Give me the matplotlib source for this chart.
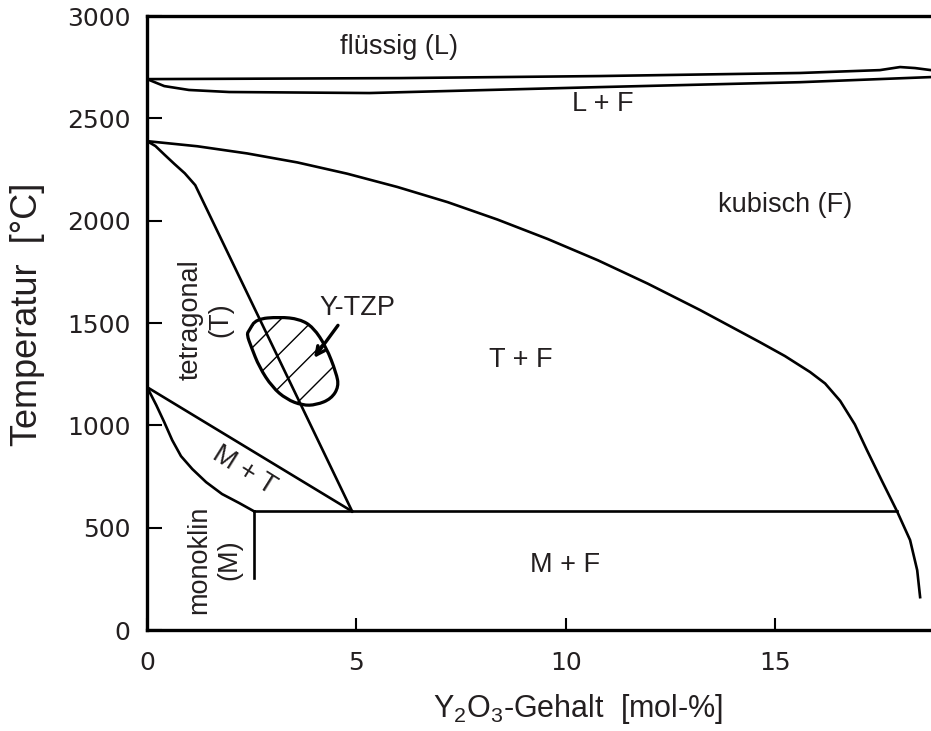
import matplotlib.pyplot as plt
from matplotlib.patches import PathPatch
from matplotlib.path import Path

# Phase boundaries of ZrO2 - Y2O3 (x in mol-% Y2O3, T in degC)
liquidus_x = [0, 6.03, 10.81, 15.60, 17.51, 17.99, 18.35, 18.73]
liquidus_T = [2692, 2697, 2707, 2722, 2736, 2751, 2746, 2736]

solidus_x = [0, 0.41, 1.0, 1.96, 5.31, 10.81, 15.60, 18.73]
solidus_T = [2692, 2658, 2639, 2629, 2624, 2653, 2677, 2702]

cubic_x = [0, 1.20, 2.39, 3.59, 4.78, 5.98, 7.18, 8.37, 9.57, 10.77, 11.96,
           13.21, 14.64, 15.24, 15.84, 16.20, 16.56, 16.91, 17.20, 17.56,
           17.92, 18.23, 18.40, 18.47]
cubic_T = [2389, 2364, 2329, 2285, 2230, 2165, 2091, 2006, 1911, 1807, 1693,
           1564, 1407, 1339, 1261, 1205, 1120, 1005, 879, 728,
           580, 440, 293, 161]

tetra_x = [0, 0.20, 0.42, 0.65, 0.90, 1.15, 4.90]
tetra_T = [2389, 2365, 2322, 2278, 2232, 2174, 580]

mt_upper_x = [0, 4.90]
mt_upper_T = [1187, 580]

mt_lower_x = [0, 0.22, 0.41, 0.60, 0.81, 1.08, 1.41, 1.79, 2.20, 2.56]
mt_lower_T = [1187, 1099, 1016, 928, 850, 787, 723, 665, 621, 580]

eutectoid_x = [2.56, 17.92]
eutectoid_T = [580, 580]

mono_x = [2.56, 2.56]
mono_T = [580, 254]

# Y-TZP processing window (outline control points)
tzp_x = [2.44, 2.60, 3.16, 3.64, 3.97, 4.28, 4.52, 4.58, 4.40, 4.04,
         3.71, 3.33, 2.99, 2.68, 2.49, 2.38]
tzp_T = [1465, 1520, 1530, 1520, 1480, 1383, 1256, 1190, 1130, 1100,
         1098, 1128, 1187, 1285, 1383, 1445]

# Region labels: text, x, T, rotation
labels = [
    ("flüssig (L)", 6.03, 2849, 0),
    ("L + F", 10.89, 2570, 0),
    ("kubisch (F)", 15.24, 2077, 0),
    ("T + F", 8.92, 1319, 0),
    ("Y-TZP", 5.02, 1573, 0),
    ("tetragonal\n(T)", 1.40, 1515, 90),
    ("M + T", 2.32, 782, -32),
    ("monoklin\n(M)", 1.60, 342, 90),
    ("M + F", 9.98, 318, 0),
]

txt_color = "#231f20"
plt.rcParams['hatch.linewidth'] = 1.0

fig = plt.figure(figsize=(9.31, 7.31), dpi=100)
ax = fig.add_axes([0.158, 0.138, 0.842, 0.840])

lw = 1.9
for xs, ts in [(liquidus_x, liquidus_T), (solidus_x, solidus_T),
               (cubic_x, cubic_T), (tetra_x, tetra_T),
               (mt_upper_x, mt_upper_T), (mt_lower_x, mt_lower_T),
               (eutectoid_x, eutectoid_T), (mono_x, mono_T)]:
    ax.plot(xs, ts, color="black", lw=lw, solid_joinstyle="round")

# smooth closed outline: points act as quadratic bezier control points
pts = list(zip(tzp_x, tzp_T))
n = len(pts)
mid = lambda a, b: ((a[0] + b[0]) / 2, (a[1] + b[1]) / 2)
verts = [mid(pts[0], pts[1])]
codes = [Path.MOVETO]
for i in range(1, n + 1):
    verts += [pts[i % n], mid(pts[i % n], pts[(i + 1) % n])]
    codes += [Path.CURVE3, Path.CURVE3]
blob = PathPatch(Path(verts, codes), facecolor="none", edgecolor="black",
                 lw=2.3, hatch="/")
ax.add_patch(blob)

ax.annotate("", xy=(3.95, 1319), xytext=(4.60, 1500),
            arrowprops=dict(arrowstyle="->,head_length=0.6,head_width=0.3",
                            color="black", lw=2.4))

for text, x, T, rot in labels:
    ax.text(x, T, text, ha="center", va="center", rotation=rot,
            fontsize=19.5, color=txt_color, family="Liberation Sans",
            multialignment="center", linespacing=1.2)

ax.set_xlim(0, 18.73)
ax.set_ylim(0, 3000)
ax.set_xticks([0, 5, 10, 15])
ax.set_yticks([0, 500, 1000, 1500, 2000, 2500, 3000])
ax.tick_params(axis="x", direction="in", length=9, width=1.5, pad=15,
               labelsize=18, labelcolor=txt_color)
ax.tick_params(axis="y", direction="in", length=11, width=1.5, pad=12,
               labelsize=18, labelcolor=txt_color)

for side in ["left", "bottom", "top"]:
    ax.spines[side].set_linewidth(2.4)
ax.spines["right"].set_visible(False)

ax.set_xlabel(r"Y$_\mathregular{2}$O$_\mathregular{3}$-Gehalt  [mol-%]",
              fontsize=22, family="Liberation Sans", color=txt_color)
ax.set_ylabel("Temperatur  [°C]", fontsize=26, family="Liberation Sans",
              color=txt_color)
ax.xaxis.set_label_coords(0.55, -0.1)
ax.yaxis.set_label_coords(-0.13, 0.515)

fig.savefig("out.png", dpi=100)
